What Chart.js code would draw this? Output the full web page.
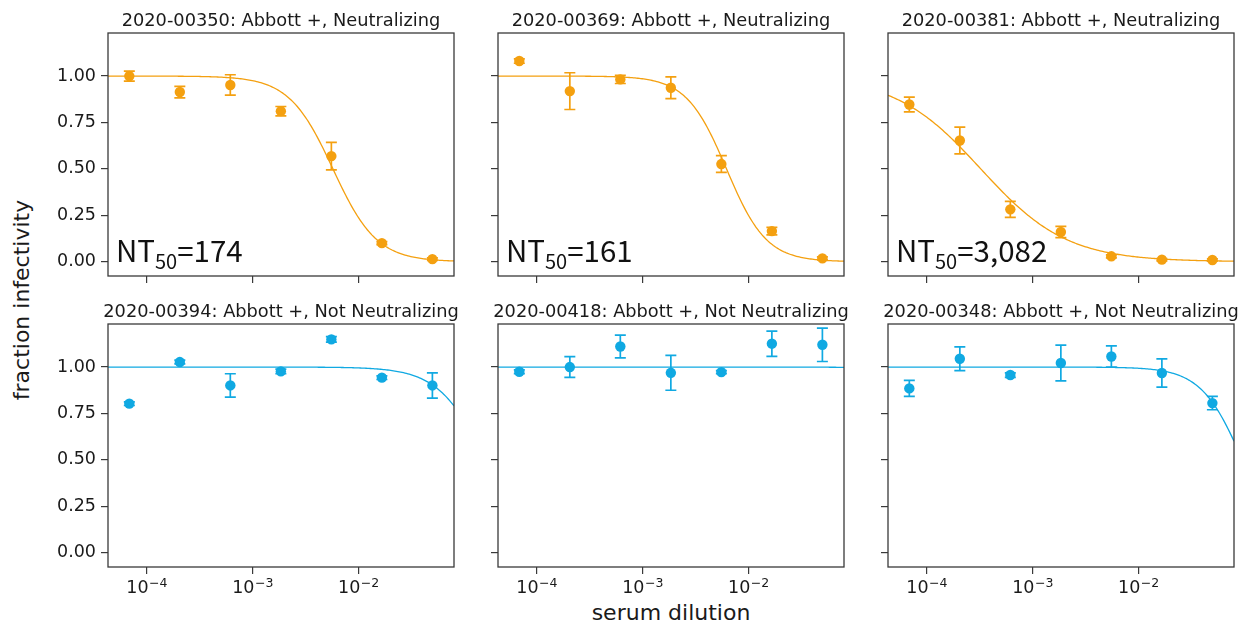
<!DOCTYPE html>
<html>
<head>
<meta charset="utf-8">
<title>Neutralization curves</title>
<script src="https://cdn.jsdelivr.net/npm/chart.js@4/dist/chart.umd.min.js"></script>
<style>
  html, body { margin: 0; padding: 0; background: #fff; }
  #fig { position: relative; width: 1245px; height: 626px; overflow: hidden; background: #fff;
         font-family: 'DejaVu Sans', sans-serif; color: #1a1a1a; }
  #fig canvas { position: absolute; }
  .ylab { position: absolute; left: 22px; top: 300px; font-size: 22px; line-height: 26px; white-space: nowrap;
          transform: translate(-50%, -50%) rotate(-90deg); }
  .xlab { position: absolute; left: 671px; top: 600px; font-size: 22px; line-height: 26px; white-space: nowrap;
          transform: translateX(-50%); }
</style>
</head>
<body>
<div id="fig">
  <div class="ylab">fraction infectivity</div>
  <div class="xlab">serum dilution</div>
</div>
<script>
// serum dilutions (3-fold series, 1:20 to 1:14580), as fraction of serum
const dilutions = [0.0000686, 0.0002058, 0.000617, 0.001852, 0.005556, 0.016667, 0.05];

// fraction infectivity (mean) and error half-widths per serum
const vals00350 = [1.000, 0.914, 0.952, 0.811, 0.569, 0.100, 0.014];
const errs00350 = [0.027, 0.031, 0.055, 0.025, 0.074, 0.008, 0.007];
const vals00369 = [1.081, 0.919, 0.982, 0.937, 0.526, 0.165, 0.018];
const errs00369 = [0.012, 0.099, 0.022, 0.059, 0.045, 0.020, 0.008];
const vals00381 = [0.847, 0.653, 0.282, 0.160, 0.029, 0.011, 0.009];
const errs00381 = [0.040, 0.072, 0.043, 0.030, 0.008, 0.006, 0.006];
const vals00394 = [0.803, 1.027, 0.901, 0.977, 1.149, 0.943, 0.901];
const errs00394 = [0.010, 0.010, 0.063, 0.012, 0.015, 0.010, 0.068];
const vals00418 = [0.975, 1.000, 1.111, 0.969, 0.973, 1.126, 1.120];
const errs00418 = [0.010, 0.056, 0.061, 0.094, 0.008, 0.068, 0.090];
const vals00348 = [0.885, 1.045, 0.957, 1.022, 1.057, 0.968, 0.806];
const errs00348 = [0.043, 0.064, 0.012, 0.096, 0.057, 0.076, 0.036];

// fitted Hill curve parameters: NT50 (reciprocal dilution) and Hill slope
const nt50s  = [174, 161, 3082, 6.3, 0.5, 10.4];
const slopes = [2.1, 2.3, 1.07, 1.94, 2.0, 2.22];

const serumIds = ['2020-00350', '2020-00369', '2020-00381', '2020-00394', '2020-00418', '2020-00348'];
const statuses = ['Neutralizing', 'Neutralizing', 'Neutralizing', 'Not Neutralizing', 'Not Neutralizing', 'Not Neutralizing'];

// axis ticks
const xTickValues = [1e-4, 1e-3, 1e-2];
const yTickValues = [0, 0.25, 0.5, 0.75, 1.0];

// ---- layout & style ----
const X_MIN = 4.315e-5, X_MAX = 0.0800;
const Y_MIN = -0.077, Y_MAX = 1.232;
const COL_LEFT = [108, 498, 888];
const ROW_TOP = [33, 324];
const PLOT_W = 346, PLOT_H = 243;
const PAD_L = 60, PAD_T = 33, PAD_R = 10, PAD_B = 30;
const ORANGE = '#f4a010';
const BLUE = '#10a9e2';
const AXIS = '#3a3a3a';
const TEXT = '#1a1a1a';

const valsBySerum = [vals00350, vals00369, vals00381, vals00394, vals00418, vals00348];
const errsBySerum = [errs00350, errs00369, errs00381, errs00394, errs00418, errs00348];

// Hill curve with top = 1, bottom = 0
function hill(x, nt50, slope) {
  return 1 / (1 + Math.pow(x * nt50, slope));
}
function curvePoints(nt50, slope) {
  const pts = [];
  const n = 240;
  const a = Math.log10(X_MIN), b = Math.log10(X_MAX);
  for (let i = 0; i <= n; i++) {
    const x = Math.pow(10, a + (b - a) * i / n);
    pts.push({ x: x, y: hill(x, nt50, slope) });
  }
  return pts;
}

const decorPlugin = {
  id: 'panelDecor',
  afterDatasetsDraw(chart, args, opts) {
    const { ctx, scales: { x, y } } = chart;
    const p = opts.panel;
    ctx.save();
    ctx.beginPath();
    ctx.rect(chart.chartArea.left, chart.chartArea.top, chart.chartArea.width, chart.chartArea.height);
    ctx.clip();
    ctx.strokeStyle = p.color;
    ctx.lineWidth = 1.7;
    const cap = 5.5;
    dilutions.forEach((d, i) => {
      const px = x.getPixelForValue(d);
      const y1 = y.getPixelForValue(p.vals[i] + p.errs[i]);
      const y2 = y.getPixelForValue(p.vals[i] - p.errs[i]);
      ctx.beginPath();
      ctx.moveTo(px, y1); ctx.lineTo(px, y2);
      ctx.moveTo(px - cap, y1); ctx.lineTo(px + cap, y1);
      ctx.moveTo(px - cap, y2); ctx.lineTo(px + cap, y2);
      ctx.stroke();
    });
    ctx.restore();
  },
  afterDraw(chart, args, opts) {
    const { ctx, chartArea: ca, scales: { x } } = chart;
    const p = opts.panel;
    ctx.save();
    // frame
    ctx.strokeStyle = AXIS;
    ctx.lineWidth = 1.3;
    ctx.strokeRect(ca.left, ca.top, ca.right - ca.left, ca.bottom - ca.top);

    // title
    ctx.fillStyle = TEXT;
    ctx.font = '17.8px "DejaVu Sans"';
    ctx.textAlign = 'center';
    ctx.textBaseline = 'alphabetic';
    ctx.fillText(p.title, (ca.left + ca.right) / 2, ca.top - 7.5);

    // x tick labels as powers of ten
    if (p.showX) {
      x.ticks.forEach(t => {
        const exp = Math.round(Math.log10(t.value));
        const base = '10';
        const sup = (exp < 0 ? '\u2212' : '') + Math.abs(exp);
        ctx.font = '17.5px "DejaVu Sans"';
        const wb = ctx.measureText(base).width;
        ctx.font = '12.5px "DejaVu Sans"';
        const ws = ctx.measureText(sup).width;
        const px = x.getPixelForValue(t.value);
        const left = px - (wb + ws) / 2;
        ctx.textAlign = 'left';
        ctx.font = '17.5px "DejaVu Sans"';
        ctx.fillText(base, left, ca.bottom + 26);
        ctx.font = '12.5px "DejaVu Sans"';
        ctx.fillText(sup, left + wb + 0.5, ca.bottom + 19.5);
      });
    }

    // NT50 annotation
    if (p.nt50Text) {
      const fam = '"Noto Sans CJK JP", "Noto Sans", sans-serif';
      let cx = ca.left + 8;
      const base = ca.bottom - 13.6;
      ctx.textAlign = 'left';
      ctx.fillStyle = '#111';
      ctx.font = '29.5px ' + fam;
      ctx.fillText('NT', cx, base);
      cx += ctx.measureText('NT').width;
      ctx.font = '20px ' + fam;
      ctx.fillText('50', cx, base + 7);
      cx += ctx.measureText('50').width;
      ctx.font = '29.5px ' + fam;
      ctx.fillText('=' + p.nt50Text, cx, base);
    }
    ctx.restore();
  }
};

function makePanel(i) {
  const col = i % 3, row = Math.floor(i / 3);
  const neut = statuses[i] === 'Neutralizing';
  const color = neut ? ORANGE : BLUE;
  const panel = {
    title: serumIds[i] + ': Abbott +, ' + statuses[i],
    vals: valsBySerum[i],
    errs: errsBySerum[i],
    color: color,
    showX: row === 1,
    showY: col === 0,
    nt50Text: neut ? Math.round(nt50s[i]).toLocaleString('en-US') : null
  };

  const canvas = document.createElement('canvas');
  canvas.width = PLOT_W + PAD_L + PAD_R;
  canvas.height = PLOT_H + PAD_T + PAD_B;
  canvas.style.width = canvas.width + 'px';
  canvas.style.height = canvas.height + 'px';
  canvas.style.left = (COL_LEFT[col] - PAD_L) + 'px';
  canvas.style.top = (ROW_TOP[row] - PAD_T) + 'px';
  document.getElementById('fig').appendChild(canvas);

  const gridOpts = {
    drawOnChartArea: false,
    drawTicks: true,
    tickLength: 7,
    color: AXIS,
    lineWidth: 1.2
  };

  new Chart(canvas, {
    type: 'scatter',
    data: {
      datasets: [
        {
          label: 'measured',
          data: dilutions.map((d, k) => ({ x: d, y: panel.vals[k] })),
          pointRadius: 5.2,
          pointHoverRadius: 5.2,
          pointBackgroundColor: color,
          pointBorderWidth: 0,
          showLine: false
        },
        {
          label: 'fit',
          data: curvePoints(nt50s[i], slopes[i]),
          showLine: true,
          borderColor: color,
          borderWidth: 1.3,
          pointRadius: 0,
          pointHoverRadius: 0,
          tension: 0,
          fill: false
        }
      ]
    },
    options: {
      responsive: false,
      animation: false,
      devicePixelRatio: 1,
      events: [],
      layout: { padding: { left: 0, top: PAD_T, right: PAD_R, bottom: 0 } },
      plugins: {
        legend: { display: false },
        tooltip: { enabled: false },
        title: { display: false },
        panelDecor: { panel: panel }
      },
      scales: {
        x: {
          type: 'logarithmic',
          position: 'bottom',
          min: X_MIN,
          max: X_MAX,
          afterBuildTicks: s => { s.ticks = xTickValues.map(v => ({ value: v })); },
          afterFit: s => { s.height = PAD_B; },
          ticks: { display: false },
          grid: gridOpts,
          border: { display: false }
        },
        y: {
          type: 'linear',
          position: 'left',
          min: Y_MIN,
          max: Y_MAX,
          afterBuildTicks: s => { s.ticks = yTickValues.map(v => ({ value: v })); },
          afterFit: s => { s.width = PAD_L; },
          ticks: {
            display: panel.showY,
            callback: v => Number(v).toFixed(2),
            font: { family: 'DejaVu Sans', size: 17.5 },
            color: TEXT,
            padding: 5
          },
          grid: gridOpts,
          border: { display: false }
        }
      }
    },
    plugins: [decorPlugin]
  });
}

function drawAll() {
  for (let i = 0; i < 6; i++) makePanel(i);
}

const fontLoads = [
  '17px "DejaVu Sans"', '12px "DejaVu Sans"', '28px "Noto Sans CJK JP"'
].map(f => document.fonts.load(f).catch(() => null));
Promise.all(fontLoads).then(drawAll, drawAll);
</script>
</body>
</html>
